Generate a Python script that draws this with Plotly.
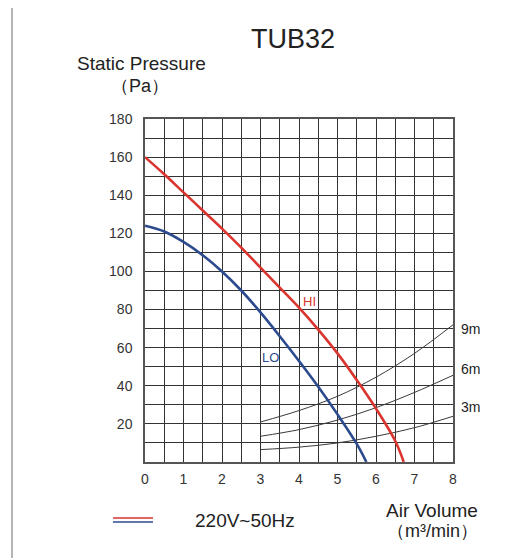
import plotly.graph_objects as go

# ---- data ----
hi_x = [0, 0.5, 1, 1.5, 2, 2.5, 3, 3.5, 4, 4.5, 5, 5.5, 6, 6.5, 6.72]
hi_y = [160, 151, 141.5, 132, 122.5, 112.5, 102, 91.5, 81, 69.5, 57, 43, 28, 11, 0]

lo_x = [0, 0.5, 1, 1.5, 2, 2.5, 3, 3.5, 4, 4.5, 5, 5.5, 5.75]
lo_y = [124, 121, 115.5, 108.5, 100, 90, 78.5, 66, 53, 39.5, 25, 9.5, 0]

duct_x = [3, 4, 5, 6, 7, 8]
duct_9m = [21, 27, 34.5, 44.5, 57, 72]
duct_6m = [13.5, 17, 22, 28.5, 36.5, 45.5]
duct_3m = [6.5, 7.8, 10, 13.5, 18, 24]

x_ticks = [0, 1, 2, 3, 4, 5, 6, 7, 8]
y_ticks = [20, 40, 60, 80, 100, 120, 140, 160, 180]

OFF = 8  # page body margin
W, H = 530 - OFF, 558 - OFF
L, R, T, B = 145 - OFF, 453 - OFF, 119 - OFF, 462 - OFF
FONT = "Liberation Sans, Arial, sans-serif"


def px(x):
    return (x - OFF - L) / (R - L)


def py(y):
    return (B - (y - OFF)) / (B - T)


fig = go.Figure()

for ys in (duct_9m, duct_6m, duct_3m):
    fig.add_trace(go.Scatter(x=duct_x, y=ys, mode="lines",
                             line=dict(color="#3a3a3a", width=1, shape="spline"),
                             hoverinfo="skip", showlegend=False))

fig.add_trace(go.Scatter(x=lo_x, y=lo_y, mode="lines",
                         line=dict(color="#2c4a8e", width=2.6, shape="spline"),
                         showlegend=False))
fig.add_trace(go.Scatter(x=hi_x, y=hi_y, mode="lines",
                         line=dict(color="#d9342e", width=2.6, shape="spline"),
                         showlegend=False))

grid_col = "#333333"
fig.update_xaxes(range=[0, 8], tickmode="array", tickvals=x_ticks,
                 ticktext=[str(v) for v in x_ticks],
                 showgrid=True, gridcolor=grid_col, gridwidth=1.3,
                 minor=dict(dtick=0.5, tick0=0, showgrid=True, gridcolor=grid_col, gridwidth=1.3),
                 showline=True, linecolor="#555", linewidth=1.5, mirror=True,
                 zeroline=False, ticks="", ticklabelstandoff=3,
                 tickfont=dict(family=FONT, size=14, color="#333"))
fig.update_yaxes(range=[0, 180], tickmode="array", tickvals=y_ticks,
                 ticktext=[str(v) for v in y_ticks],
                 showgrid=True, gridcolor=grid_col, gridwidth=1.3,
                 minor=dict(dtick=10, tick0=0, showgrid=True, gridcolor=grid_col, gridwidth=1.3),
                 showline=True, linecolor="#555", linewidth=1.5, mirror=True,
                 zeroline=False, ticks="", ticklabelstandoff=8,
                 tickfont=dict(family=FONT, size=14, color="#333"))

ann = []


def txt(x, y, s, size, color="#222", xref="paper", yref="paper", xanchor="center"):
    ann.append(dict(x=x, y=y, xref=xref, yref=yref, text=s, showarrow=False,
                    xanchor=xanchor, yanchor="middle",
                    font=dict(family=FONT, size=size, color=color)))


txt(px(293), py(39), "TUB32", 27)
txt(px(141), py(64), "Static Pressure", 19)
txt(px(140), py(86), "（Pa）", 18)
txt(px(432), py(510), "Air Volume", 19)
txt(px(432), py(531), "（m³/min）", 18)
txt(px(245), py(520), "220V~50Hz", 19)
txt(4.27, 84, "HI", 13, "#d9342e", "x", "y")
txt(3.27, 55, "LO", 13, "#2c4a8e", "x", "y")
txt(px(459), 70, "9m", 14, "#222", "paper", "y", "left")
txt(px(459), 49, "6m", 14, "#222", "paper", "y", "left")
txt(px(459), 29, "3m", 14, "#222", "paper", "y", "left")

shapes = [
    dict(type="line", xref="paper", yref="paper", x0=px(113), x1=px(153), y0=py(518), y1=py(518),
         line=dict(color="#d9342e", width=1.3)),
    dict(type="line", xref="paper", yref="paper", x0=px(113), x1=px(153), y0=py(522), y1=py(522),
         line=dict(color="#2c4a8e", width=1.3)),
    dict(type="line", xref="paper", yref="paper", x0=px(12), x1=px(12), y0=py(3), y1=py(558),
         line=dict(color="#b4b4b4", width=2)),
    dict(type="line", xref="paper", yref="paper", x0=px(12), x1=px(530), y0=py(3), y1=py(3),
         line=dict(color="#b4b4b4", width=2)),
]

fig.update_layout(width=W, height=H, margin=dict(l=L, r=W - R, t=T, b=H - B),
                  paper_bgcolor="white", plot_bgcolor="white",
                  annotations=ann, shapes=shapes, showlegend=False)

fig.write_html("out.html")
